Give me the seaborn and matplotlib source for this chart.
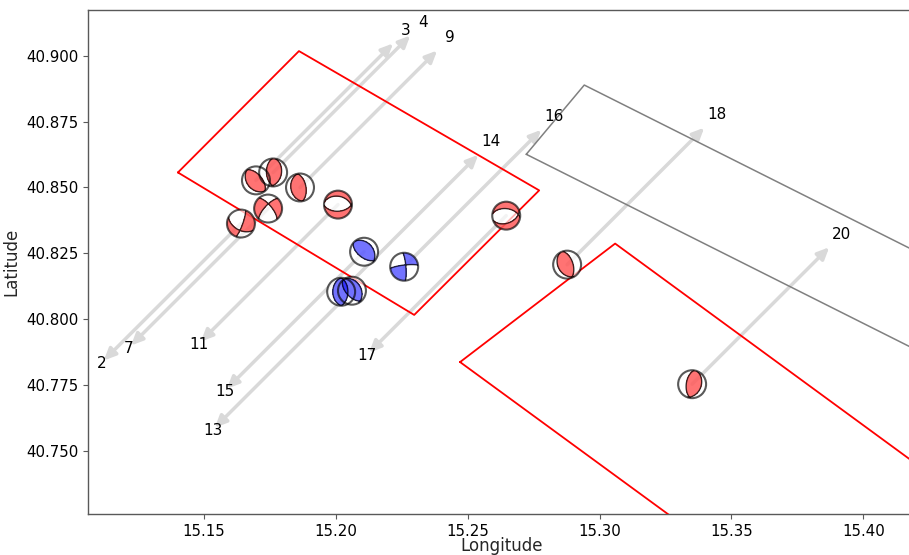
"""Focal mechanisms with slip-direction arrows and fault outlines."""

import matplotlib
matplotlib.use('Agg')
import matplotlib.pyplot as plt
from matplotlib.patches import Circle
import seaborn as sns
import pandas as pd
import numpy as np

sns.set_style('ticks', {'axes.edgecolor': '0.35', 'xtick.color': '0.35', 'ytick.color': '0.35'})
plt.rcParams['font.family'] = ['DejaVu Sans']

# --- events -------------------------------------------------------------
event_id = [2, 3, 4, 7, 9, 11, 13, 14, 15, 16, 17, 18, 20]
event_lon = [15.1640, 15.1697, 15.1762, 15.1743, 15.1864, 15.2008, 15.2061,
             15.2020, 15.2107, 15.2259, 15.2646, 15.2877, 15.3351]
event_lat = [40.8363, 40.8527, 40.8557, 40.8420, 40.8500, 40.8435, 40.8108,
             40.8104, 40.8256, 40.8199, 40.8393, 40.8207, 40.7753]
# +1 = arrow to the NE, -1 = arrow to the SW
arrow_dir = [-1, 1, 1, -1, 1, -1, -1, 1, -1, 1, -1, 1, 1]
mech_type = ['red', 'red', 'red', 'red', 'red', 'red', 'blue',
             'blue', 'blue', 'blue', 'red', 'red', 'red']
strike = [20, 140, 10, 320, 170, 280, 330, 180, 320, 355, 70, 150, 20]
dip = [80, 35, 40, 70, 35, 40, 35, 40, 35, 80, 45, 35, 35]
rake = [-40, 90, 100, -160, 90, -80, 100, 90, 100, 10, -110, 80, 100]

# --- fault outlines ------------------------------------------------------
fault1_lon = [15.1401, 15.1860, 15.2771, 15.2297, 15.1401]
fault1_lat = [40.8557, 40.9018, 40.8489, 40.8016, 40.8557]
fault2_lon = [15.2471, 15.3059, 15.4520, 15.3932, 15.2471]
fault2_lat = [40.7837, 40.8287, 40.7216, 40.6767, 40.7837]
fault3_lon = [15.2722, 15.2942, 15.4899, 15.4679, 15.2722]
fault3_lat = [40.8626, 40.8889, 40.7906, 40.7643, 40.8626]

ARROW_LEN = 0.052
BALL_R = 0.0053  # degrees

fill_colors = {'red': (1.0, 0.0, 0.0, 0.55), 'blue': (0.0, 0.0, 1.0, 0.55)}


def p_amplitude(s, d, r, n=121):
    """P-wave polarity on lower-hemisphere equal-area grid."""
    g = np.linspace(-1.05, 1.05, n)
    X, Y = np.meshgrid(g, g)
    R = np.minimum(np.hypot(X, Y), 1.0)
    inc = 2 * np.arcsin(R / np.sqrt(2))
    az = np.arctan2(X, Y)
    nvec = np.array([np.sin(inc) * np.cos(az), np.sin(inc) * np.sin(az), np.cos(inc)])
    s, d, r = np.radians([s, d, r])
    nu = np.array([-np.sin(d) * np.sin(s), np.sin(d) * np.cos(s), -np.cos(d)])
    u = np.array([np.cos(r) * np.cos(s) + np.cos(d) * np.sin(r) * np.sin(s),
                  np.cos(r) * np.sin(s) - np.cos(d) * np.sin(r) * np.cos(s),
                  -np.sin(r) * np.sin(d)])
    un = np.tensordot(u, nvec, axes=1)
    nn = np.tensordot(nu, nvec, axes=1)
    return X, Y, un * nn


def beachball(ax, lon, lat, s, d, r, color, z=5):
    ax.add_patch(Circle((lon, lat), BALL_R, fc='white', ec='none', alpha=0.7, zorder=z))
    X, Y, A = p_amplitude(s, d, r)
    Xd, Yd = lon + X * BALL_R, lat + Y * BALL_R
    clip = Circle((lon, lat), BALL_R, transform=ax.transData)
    cs = ax.contourf(Xd, Yd, A, levels=[0, 10], colors=[fill_colors[color]], zorder=z + 0.1)
    cs.set_clip_path(clip)
    cl = ax.contour(Xd, Yd, A, levels=[0], colors='black', linewidths=1.0,
                    alpha=0.75, zorder=z + 0.2)
    cl.set_clip_path(clip)
    ax.add_patch(Circle((lon, lat), BALL_R, fc='none', ec='black', lw=1.5,
                        alpha=0.65, zorder=z + 0.3))


fig = plt.figure(figsize=(9.09, 5.55), dpi=100)
ax = fig.add_axes([88 / 909, 41 / 555, 828 / 909, 504 / 555])

for flon, flat, col, lw in [(fault1_lon, fault1_lat, 'red', 1.3),
                            (fault2_lon, fault2_lat, 'red', 1.3),
                            (fault3_lon, fault3_lat, 'gray', 1.1)]:
    sns.lineplot(x=flon, y=flat, sort=False, estimator=None, color=col,
                 linewidth=lw, ax=ax, zorder=3)

df = pd.DataFrame({'id': event_id, 'lon': event_lon, 'lat': event_lat,
                   'dir': arrow_dir, 'type': mech_type,
                   'strike': strike, 'dip': dip, 'rake': rake})

for _, ev in df.iterrows():
    tip = (ev.lon + ev.dir * ARROW_LEN, ev.lat + ev.dir * ARROW_LEN)
    ax.annotate('', xy=tip, xytext=(ev.lon, ev.lat),
                arrowprops=dict(arrowstyle='-|>,head_width=0.32,head_length=0.7',
                                color='#d9d9d9', lw=2.5, shrinkA=0, shrinkB=0),
                zorder=2)
    if ev.dir > 0:
        tx, ty = tip[0] + 0.0048, tip[1] + 0.005
    else:
        tx, ty = tip[0] - 0.0008, tip[1] - 0.001
    ax.text(tx, ty, str(int(ev.id)), fontsize=11, color='black',
            ha='center', va='center', zorder=4)

for _, ev in df.iterrows():
    beachball(ax, ev.lon, ev.lat, ev.strike, ev.dip, ev.rake, ev.type)

ax.set_xlim(15.106, 15.420)
ax.set_ylim(40.726, 40.9174)
ax.set_xticks([15.15, 15.20, 15.25, 15.30, 15.35, 15.40])
ax.set_yticks([40.750, 40.775, 40.800, 40.825, 40.850, 40.875, 40.900])
ax.set_yticklabels([f'{v:.3f}' for v in ax.get_yticks()])
ax.tick_params(labelsize=10.8, length=3.5, width=0.8, labelcolor='black')
ax.set_xlabel('Longitude', fontsize=12, labelpad=-1)
ax.set_ylabel('Latitude', fontsize=12)
for sp in ax.spines.values():
    sp.set_linewidth(1.0)

fig.savefig('out.png', dpi=100)
